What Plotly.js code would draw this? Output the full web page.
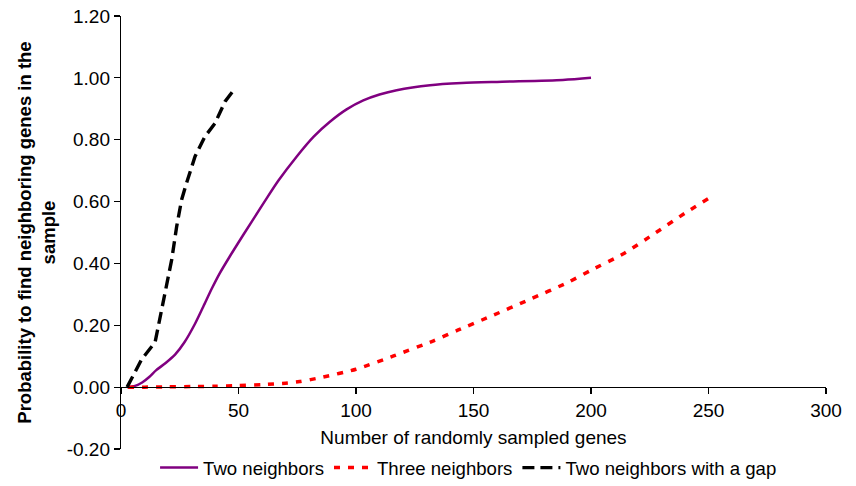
<!DOCTYPE html>
<html>
<head>
<meta charset="utf-8">
<script src="https://cdn.plot.ly/plotly-3.0.1.min.js"></script>
<style>html,body{margin:0;padding:0;background:#fff;}#chart{width:856px;height:486px;}</style>
</head>
<body>
<div id="chart"></div>
<script>
// Two neighbors (purple, solid)
var twoX = [2.6, 6, 9, 12, 15, 19, 23, 27, 31.5, 35, 38.6, 42, 46.4, 52, 60.6, 67, 74.8, 82, 88.9, 96, 103.1, 110, 117.3, 131.5, 145, 160, 188, 200];
var twoY = [0, 0.004, 0.015, 0.033, 0.055, 0.078, 0.105, 0.145, 0.205, 0.26, 0.318, 0.368, 0.424, 0.492, 0.594, 0.668, 0.746, 0.81, 0.858, 0.898, 0.927, 0.946, 0.96, 0.976, 0.983, 0.987, 0.993, 1.0];
// Three neighbors (red, dotted)
var threeX = [3, 10, 20, 30, 40, 50, 60, 70, 76, 85, 100, 116, 133, 143.5, 157, 174, 190, 200, 214, 226.5, 240.7, 250];
var threeY = [0, 0, 0.001, 0.002, 0.003, 0.005, 0.008, 0.013, 0.018, 0.031, 0.058, 0.101, 0.15, 0.185, 0.228, 0.284, 0.338, 0.378, 0.432, 0.494, 0.566, 0.61];
// Two neighbors with a gap (black, dashed)
var gapX = [2.6, 8.8, 14.5, 15.9, 18.7, 21.6, 23.7, 25.8, 27.9, 31.5, 35.7, 40, 44.3, 48.2];
var gapY = [0, 0.09, 0.145, 0.198, 0.306, 0.413, 0.52, 0.606, 0.66, 0.746, 0.81, 0.853, 0.924, 0.963];

var xTicks = [0, 50, 100, 150, 200, 250, 300];
var yTicks = [-0.2, 0, 0.2, 0.4, 0.6, 0.8, 1.0, 1.2];

var FONT = 'Liberation Sans, Arial, sans-serif';

var traces = [
  {x: twoX, y: twoY, type: 'scatter', mode: 'lines', name: 'Two neighbors',
   line: {color: '#800080', width: 2.5, shape: 'spline', smoothing: 0.8}},
  {x: threeX, y: threeY, type: 'scatter', mode: 'lines', name: 'Three neighbors',
   line: {color: '#ff0000', width: 3.5, dash: '6px,8px', shape: 'spline', smoothing: 0.6}},
  {x: gapX, y: gapY, type: 'scatter', mode: 'lines', name: 'Two neighbors with a gap',
   line: {color: '#000000', width: 3.4, dash: '12px,6px'}}
];

var layout = {
  width: 856, height: 486,
  margin: {l: 121, r: 30, t: 16, b: 36},
  paper_bgcolor: '#fff', plot_bgcolor: '#fff',
  font: {family: FONT, size: 19, color: '#000'},
  showlegend: true,
  legend: {orientation: 'h', x: 0.493, xanchor: 'center', yref: 'container', y: 0.037, yanchor: 'middle',
           font: {family: FONT, size: 18.6, color: '#000'}, itemwidth: 38, traceorder: 'normal'},
  xaxis: {
    range: [0, 300], tickvals: xTicks, ticktext: xTicks.map(String),
    anchor: 'free', position: 0.2 / 1.4,
    showline: true, linecolor: '#000', linewidth: 1.2,
    ticks: 'outside', ticklen: 6, tickcolor: '#000', tickwidth: 1.2,
    showgrid: false, zeroline: false,
    tickfont: {family: FONT, size: 19},
    title: {text: 'Number of randomly sampled genes', font: {family: FONT, size: 19}, standoff: 10},
    automargin: false
  },
  yaxis: {
    range: [-0.2, 1.2], tickvals: yTicks, ticktext: yTicks.map(function(v){return v.toFixed(2);}),
    showline: true, linecolor: '#000', linewidth: 1.2,
    ticks: 'outside', ticklen: 6, tickcolor: '#000', tickwidth: 1.2,
    showgrid: false, zeroline: false,
    tickfont: {family: FONT, size: 19},
    title: {text: '<b>Probability to find neighboring genes in the<br>sample</b>', font: {family: FONT, size: 18.5}, standoff: 6},
    automargin: false
  }
};

Plotly.newPlot('chart', traces, layout, {displayModeBar: false, staticPlot: true});
</script>
</body>
</html>
